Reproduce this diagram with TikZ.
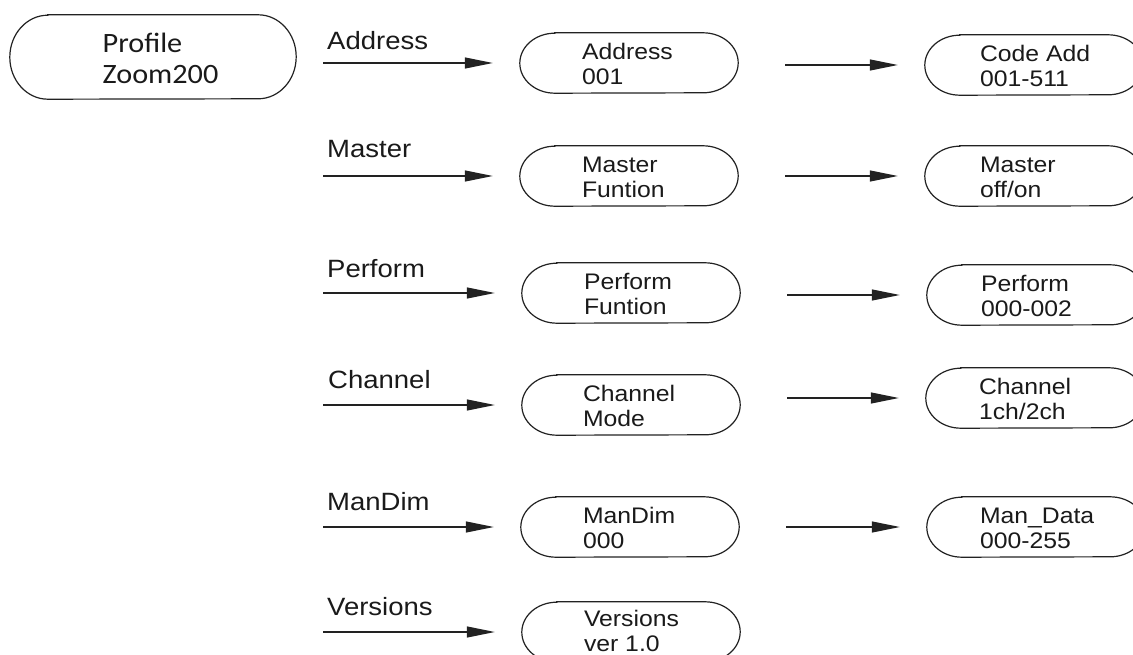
\documentclass[tikz,border=0pt]{standalone}
\usepackage{fontspec}
\setmainfont[FakeStretch=1.1]{Liberation Sans}
\newfontfamily\proffont[FakeStretch=1.08]{Carlito}
\usetikzlibrary{arrows.meta}
\definecolor{ln}{HTML}{222222}
\definecolor{txt}{HTML}{1A1A1A}
\newcommand\pillout[3]{%
  \draw[outline] ([xshift=#2]#1.north west) -- ([xshift=-#2]#1.north east)
    arc[start angle=90,end angle=-90,x radius=#2,y radius=#3]
    -- ([xshift=#2]#1.south west)
    arc[start angle=270,end angle=90,x radius=#2,y radius=#3] -- cycle;}
\begin{document}
\begin{tikzpicture}[x=1pt,y=1pt,
  box/.style={rectangle, minimum width=218pt, minimum height=60pt, inner sep=0pt},
  btxt/.style={anchor=west, inner sep=0pt, align=left,
    font=\fontsize{22.5}{25}\selectfont, text=txt},
  lab/.style={anchor=base west, inner sep=0pt, font=\fontsize{25}{28}\selectfont, text=txt},
  conn/.style={line width=1.2pt, draw=ln, -{Triangle[length=28pt,width=11pt]}},
  outline/.style={line width=1.2pt, draw=ln}]
\useasboundingbox (0,0) rectangle (1133,-655);
\clip (0,0) rectangle (1133,-655);
\fill[white] (0,0) rectangle (1133,-655);

% profile
\node[rectangle, minimum width=286pt, minimum height=84pt, inner sep=0pt] (p) at (153,-57) {};
\pillout{p}{38pt}{42pt}
\node[align=left, inner sep=0pt, font=\proffont\fontsize{28}{31}\selectfont, text=txt] (pt) at (160.5,-58) {Profile\\Zoom200};

% middle boxes
\node[box] (m1) at (629,-63) {};
\node[box] (m2) at (629,-176) {};
\node[box] (m3) at (631,-293) {};
\node[box] (m4) at (631,-405) {};
\node[box] (m5) at (630,-527) {};
\node[box] (m6) at (631,-632) {};
% right boxes
\node[box] (r1) at (1034,-65) {};
\node[box] (r2) at (1034,-176) {};
\node[box] (r3) at (1036,-295) {};
\node[box] (r4) at (1035,-398) {};
\node[box] (r5) at (1036,-527) {};

\foreach \n in {m1,m2,m3,m4,m5,m6,r1,r2,r3,r4,r5}{\pillout{\n}{35pt}{30pt}}

% box texts
\node[btxt] (m1t) at ([xshift=62pt,yshift=-1pt]m1.west) {Address\\001};
\node[btxt] (m2t) at ([xshift=62pt,yshift=-1pt]m2.west) {Master\\Funtion};
\node[btxt] (m3t) at ([xshift=62pt,yshift=-1pt]m3.west) {Perform\\Funtion};
\node[btxt] (m4t) at ([xshift=61pt,yshift=-1pt]m4.west) {Channel\\Mode};
\node[btxt] (m5t) at ([xshift=62pt,yshift=-1pt]m5.west) {ManDim\\000};
\node[btxt] (m6t) at ([xshift=62pt,yshift=1pt]m6.west) {Versions\\ver 1.0};
\node[btxt] (r1t) at ([xshift=55pt,yshift=-1pt]r1.west) {Code Add\\001-511};
\node[btxt] (r2t) at ([xshift=55pt,yshift=-1pt]r2.west) {Master\\off/on};
\node[btxt] (r3t) at ([xshift=54pt,yshift=-1pt]r3.west) {Perform\\000-002};
\node[btxt] (r4t) at ([xshift=53pt,yshift=-1pt]r4.west) {Channel\\1ch/2ch};
\node[btxt] (r5t) at ([xshift=53pt,yshift=-1pt]r5.west) {Man\_Data\\000-255};

% labels
\node[lab] (l1) at (327,-50) {Address};
\node[lab] (l2) at (327,-158) {Master};
\node[lab] (l3) at (327,-278) {Perform};
\node[lab] (l4) at (328,-388) {Channel};
\node[lab] (l5) at (327,-510) {ManDim};
\node[lab] (l6) at (327,-615) {Versions};

% left arrows
\foreach \i/\y in {1/63,2/176,3/293,4/405,5/527,6/632}{
  \coordinate (s\i) at (323,-\y);
  \draw[conn, shorten >=27pt] (s\i) -- (m\i.west);
}
% right arrows
\foreach \i in {1,...,5}{
  \draw[conn, shorten <=47pt, shorten >=27pt] (m\i.east |- r\i.west) -- (r\i.west);
}
\end{tikzpicture}
\end{document}
